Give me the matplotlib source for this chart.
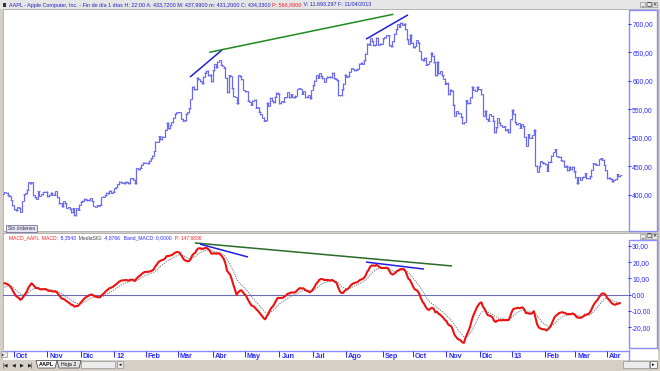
import numpy as np
import pandas as pd
import matplotlib
matplotlib.use("Agg")
from matplotlib import pyplot as plt
from matplotlib.patches import Rectangle, Polygon

W, H = 660, 371

# AAPL daily closes, one list per month (Aug/Sep 2011 only warm up the MACD)
close_2011_08 = [396.8, 392.6, 392.6, 377.4, 373.6, 353.2, 374.0, 363.7, 373.7, 377.0, 383.4, 380.5,
                 380.5, 366.1, 356.0, 356.4, 373.6, 376.2, 373.7, 383.6, 390.0, 390.0, 384.8]
close_2011_09 = [381.0, 374.1, 379.7, 383.9, 384.1, 377.5, 379.9, 384.6, 389.3, 393.0, 400.5, 411.6,
                 413.5, 412.1, 401.8, 404.3, 403.2, 399.3, 397.0, 390.6, 381.3]
close_2011_10 = [374.6, 372.5, 378.3, 377.4, 369.8, 388.8, 400.3, 402.2, 408.4, 422.0, 420.0, 422.2,
                 398.6, 395.3, 392.9, 405.8, 397.8, 400.6, 404.7, 405.0, 404.8]
close_2011_11 = [397.0, 400.2, 403.4, 400.2, 400.0, 406.2, 395.3, 385.2, 384.6, 379.3, 388.8, 384.8,
                 377.4, 378.0, 374.9, 369.0, 376.1, 363.6, 376.1, 373.2, 382.2]
close_2011_12 = [387.9, 389.7, 393.0, 390.9, 390.0, 390.7, 393.6, 388.8, 380.0, 378.9, 381.0, 380.0,
                 382.2, 395.9, 396.4, 398.6, 403.3, 402.6, 406.5, 403.0, 405.0]
close_2012_01 = [411.2, 413.4, 418.0, 422.4, 421.7, 421.0, 419.8, 422.6, 421.7, 419.8, 429.1, 429.0,
                 426.0, 420.4, 446.7, 444.6, 447.3, 453.0, 456.5, 456.5]
close_2012_02 = [456.2, 455.1, 459.7, 464.0, 468.8, 476.7, 493.2, 493.4, 502.6, 497.7, 502.2, 502.1,
                 514.0, 526.3, 516.4, 522.4, 527.3, 535.4, 542.4, 545.2]
close_2012_03 = [544.5, 545.2, 533.2, 530.3, 530.7, 542.0, 545.2, 552.0, 568.1, 589.6, 585.6, 585.6,
                 605.2, 602.5, 599.3, 596.1, 607.0, 614.5, 617.6, 609.9, 610.5, 599.6]
close_2012_04 = [618.6, 629.3, 624.3, 633.7, 636.2, 628.4, 626.2, 622.8, 605.2, 580.1, 609.7, 608.3,
                 587.4, 573.0, 571.7, 560.3, 610.0, 607.7, 603.0, 584.0]
close_2012_05 = [582.1, 581.8, 565.3, 562.8, 558.2, 565.0, 566.7, 553.2, 553.8, 545.8, 540.9, 535.3,
                 530.1, 530.4, 561.3, 556.0, 570.6, 565.3, 562.3, 572.3, 579.2, 577.7]
close_2012_06 = [561.0, 564.3, 562.8, 571.5, 571.7, 580.3, 571.2, 576.2, 572.2, 571.5, 574.1, 585.8,
                 587.4, 585.7, 577.7, 582.1, 570.8, 572.0, 574.5, 569.1, 584.0]
close_2012_07 = [592.5, 600.0, 609.9, 605.9, 613.9, 608.2, 604.4, 598.9, 605.0, 606.9, 606.9, 606.3,
                 614.3, 604.3, 603.8, 600.9, 574.9, 574.9, 585.2, 595.0, 610.8]
close_2012_08 = [606.8, 607.8, 615.7, 622.6, 620.9, 618.9, 619.9, 621.7, 630.0, 631.7, 630.0, 636.3,
                 648.1, 665.2, 663.2, 674.9, 669.8, 662.6, 663.2, 675.7, 663.9, 665.2, 665.2]
close_2012_09 = [675.0, 676.3, 680.4, 680.7, 662.7, 660.6, 669.8, 683.0, 690.8, 699.8, 694.8, 702.1,
                 698.7, 700.1, 690.8, 673.5, 665.0, 681.3, 667.1]
close_2012_10 = [659.4, 661.3, 671.5, 666.8, 652.6, 638.2, 635.9, 640.9, 628.1, 629.7, 634.8, 649.8,
                 644.6, 632.6, 609.8, 634.0, 613.4, 616.8, 609.5, 604.0, 595.3]
close_2012_11 = [596.5, 576.8, 584.6, 582.9, 558.0, 538.8, 547.1, 542.9, 542.9, 536.9, 525.6, 527.7,
                 565.7, 560.9, 561.7, 571.5, 589.5, 584.8, 582.9, 589.4, 585.3]
close_2012_12 = [585.3, 576.8, 538.8, 547.2, 533.3, 529.8, 541.4, 539.0, 529.7, 509.8, 518.8, 533.9,
                 526.3, 521.7, 519.3, 520.2, 513.0, 515.1, 509.6, 532.2]
close_2013_01 = [549.0, 542.1, 527.0, 523.9, 525.3, 517.1, 523.5, 520.3, 501.8, 485.9, 506.1, 500.0,
                 500.0, 504.8, 514.0, 450.5, 439.9, 449.8, 458.3, 456.8, 455.5]
close_2013_02 = [453.6, 442.3, 457.8, 457.8, 468.2, 475.0, 479.9, 467.9, 467.0, 466.6, 460.2, 460.0,
                 448.9, 450.8, 442.8, 449.0, 444.6, 448.9, 441.4]
close_2013_03 = [430.5, 420.1, 431.1, 425.7, 430.6, 431.7, 437.9, 428.4, 428.4, 432.5, 443.7, 455.7,
                 454.5, 452.1, 452.7, 461.9, 463.6, 461.1, 452.1, 442.7]
close_2013_04 = [428.9, 429.8, 427.7, 423.2, 426.2, 427.0, 435.7, 432.5, 434.3]

warmup_months = [close_2011_08, close_2011_09]
shown_months = [close_2011_10, close_2011_11, close_2011_12, close_2012_01, close_2012_02,
                close_2012_03, close_2012_04, close_2012_05, close_2012_06, close_2012_07,
                close_2012_08, close_2012_09, close_2012_10, close_2012_11, close_2012_12,
                close_2013_01, close_2013_02, close_2013_03, close_2013_04]
month_labels = ['Oct', 'Nov', 'Dic', '12', 'Feb', 'Mar', 'Abr', 'May', 'Jun', 'Jul', 'Ago',
                'Sep', 'Oct', 'Nov', 'Dic', '13', 'Feb', 'Mar', 'Abr']
first_shown_date = 15  # Sep 23, 2011 within the September list

price_ticks = [400, 450, 500, 550, 600, 650, 700]
macd_ticks = [-20, -10, 0, 10, 20, 30]

# hand drawn trend lines: (day index, value) start and end
price_trendlines = [((154.7, 606.7), (174.8, 654.2), '#1f1fe0'),
                    ((166.8, 650.2), (282.6, 717.1), '#1f8a1f'),
                    ((265.4, 673.4), (291.8, 716.0), '#1f1fe0')]
macd_trendlines = [((157.8, 31.7), (319.5, 17.6), '#2a6a2a'),
                   ((161.0, 31.0), (191.2, 23.1), '#1f1fe0'),
                   ((265.4, 20.0), (301.9, 15.7), '#1f1fe0')]

BLUE = '#2b2bff'
BAR = '#6a6af0'
FONT = 'Liberation Sans'


def px_axes(fig, x0, y0, x1, y1):
    return fig.add_axes([x0 / W, 1 - y1 / H, (x1 - x0) / W, (y1 - y0) / H])


def text_run(ax, x, y, parts, size, renderer, weight='normal'):
    for s, c in parts:
        t = ax.text(x, y, s, color=c, fontsize=size, va='center', ha='left',
                    family=FONT, weight=weight)
        x += t.get_window_extent(renderer).width
    return x


def fit_size(fig, parts, width, renderer):
    probe = fig.text(0, 0, ''.join(p for p, _ in parts), fontsize=10, family=FONT)
    w = probe.get_window_extent(renderer).width
    probe.remove()
    return 10 * width / w


def main():
    closes = np.array(sum(warmup_months + shown_months, []))
    macd = (pd.Series(closes).ewm(span=12, adjust=False).mean()
            - pd.Series(closes).ewm(span=26, adjust=False).mean())
    signal = macd.ewm(span=9, adjust=False).mean()
    print('MACD', macd.iloc[-1], 'signal', signal.iloc[-1])

    n_warm = sum(len(m) for m in warmup_months)
    month_starts = np.cumsum([0] + [len(m) for m in shown_months[:-1]]) + n_warm
    start = len(close_2011_08) + first_shown_date
    idx = np.arange(len(closes))

    # pixel calibration of the screenshot: Oct-2011 tick at x=14, Apr-2013 tick at x=607
    ppd = (607 - 14) / (month_starts[-1] - month_starts[0])
    xlim = (month_starts[0] - 11 / ppd, month_starts[0] + 614 / ppd)

    fig = plt.figure(figsize=(W / 100, H / 100), dpi=100, facecolor='#d4d0c8')
    renderer = fig.canvas.get_renderer()

    chrome = fig.add_axes([0, 0, 1, 1], zorder=0)
    chrome.set_xlim(0, W)
    chrome.set_ylim(H, 0)
    chrome.axis('off')

    # window frames
    chrome.add_patch(Rectangle((0, 0), W, 9, facecolor='#e6e6e6', edgecolor='none'))
    chrome.add_patch(Rectangle((2.5, 2.5), 3, 4, facecolor='#333333', edgecolor='none'))
    chrome.add_patch(Rectangle((3, 9), 655, 222, facecolor='white', edgecolor='#a0a0a0', lw=0.5))
    chrome.add_patch(Rectangle((3, 233), 655, 117, facecolor='white', edgecolor='#a0a0a0', lw=0.5))
    chrome.add_patch(Rectangle((629, 9.5), 27.5, 221, facecolor='none', edgecolor='#8c8cff', lw=1))
    chrome.add_patch(Rectangle((629, 240), 27.5, 108, facecolor='none', edgecolor='#8c8cff', lw=1))
    chrome.add_patch(Rectangle((3, 350), 655, 10, facecolor='white', edgecolor='none'))
    chrome.plot([3, 628], [351, 351], color='#8c8cff', lw=1)
    chrome.plot([628.5, 628.5], [350, 360], color='#8c8cff', lw=1)
    for y in (2, 233.5):
        for k, g in enumerate(['_', '□', '×']):
            chrome.add_patch(Rectangle((640 + 6 * k, y), 5, 5, facecolor='#e8e8e8',
                                       edgecolor='#808080', lw=0.4))
            chrome.text(642.5 + 6 * k, y + 2.6, g, fontsize=3.5, ha='center', va='center')

    # title bar text
    title_parts = [('AAPL - Apple Computer, Inc. - Fin de día 1 días H: 22:00 A: 433,7200 M: 437,9900 '
                    'm: 431,2000 C: 434,3300 ', '#2020c8'), ('P: 566,8900', '#ff2020'),
                   (' V: 11.693.297 F: 11/04/2013', '#2020c8')]
    size = fit_size(fig, title_parts, 359, renderer)
    text_run(chrome, 9, 5, title_parts, size, renderer)

    macd_parts = [('MACD_AAPL  MACD: ', '#ff2020'), ('-5,3543', BLUE), ('  MediaSIG: ', '#404040'),
                  ('-4,8766', BLUE), ('  Band_MACD: 0,0000', BLUE), ('  P: 147,6836', '#ff2020')]
    size = fit_size(fig, macd_parts, 193, renderer)
    text_run(chrome, 9, 238, macd_parts, size, renderer)

    # "Sin ordenes" button
    chrome.add_patch(Rectangle((6, 224.5), 31, 7, facecolor='#e4e4f0', edgecolor='#5a5a90', lw=0.5))
    chrome.text(21.5, 228, 'Sin órdenes', fontsize=3.6, ha='center', va='center', family=FONT,
                color='#303050')

    # bottom sheet tabs
    chrome.add_patch(Rectangle((0, 360), W, 11, facecolor='#d4d0c8', edgecolor='none'))
    for k, g in enumerate(['|◀', '◀', '▶', '▶|']):
        chrome.text(5 + 8.5 * k, 365, g, fontsize=3.6, ha='center', va='center', color='#202020')
    chrome.add_patch(Polygon([(36, 360.5), (38, 368), (55, 368), (57, 360.5)], closed=True,
                             facecolor='white', edgecolor='#404040', lw=0.5))
    chrome.text(46.5, 364.2, 'AAPL', fontsize=4, ha='center', va='center', family=FONT,
                weight='bold')
    chrome.add_patch(Polygon([(57, 360.5), (59, 368), (79, 368), (81, 360.5)], closed=True,
                             facecolor='#e4e4e4', edgecolor='#404040', lw=0.5))
    chrome.text(69, 364.2, 'Hoja 2', fontsize=3.8, ha='center', va='center', family=FONT)
    chrome.add_patch(Rectangle((81, 361), 34, 6.5, facecolor='#ececec', edgecolor='#808080', lw=0.4))
    chrome.add_patch(Rectangle((117, 361), 6, 6.5, facecolor='#e8e8e8', edgecolor='#808080', lw=0.4))
    chrome.text(120, 364.3, '◂', fontsize=3.5, ha='center', va='center')
    chrome.add_patch(Rectangle((623, 361), 26, 6.5, facecolor='#ececec', edgecolor='#808080', lw=0.4))
    chrome.add_patch(Rectangle((650, 361), 7, 6.5, facecolor='#f4f4f4', edgecolor='#404040', lw=0.4))
    chrome.text(653.5, 364.3, '▸', fontsize=3.5, ha='center', va='center')
    chrome.add_patch(Rectangle((0.5, 351), 6, 6, facecolor='#e8e8e8', edgecolor='#808080', lw=0.4))
    chrome.text(3.5, 354, '▸', fontsize=3.2, ha='center', va='center')

    # price panel
    ax = px_axes(fig, 3, 10, 628, 231)
    ax.set_facecolor('none')
    xs = idx[start:]
    prev = closes[start - 1:-1]
    cur = closes[start:]
    ax.vlines(xs, np.minimum(prev, cur) - 0.8, np.maximum(prev, cur) + 0.8, color=BAR, lw=0.9)
    ax.plot(xs, prev, ls='none', marker=0, ms=1.3, mew=0.6, color=BAR)
    ax.plot(xs, cur, ls='none', marker=1, ms=1.3, mew=0.6, color=BAR)
    for (x0, y0), (x1, y1), c in price_trendlines:
        ax.plot([x0, x1], [y0, y1], color=c, lw=1.1, solid_capstyle='butt')
    ax.set_xlim(*xlim)
    ax.set_ylim(336.1, 724.6)
    ax.set_xticks([])
    ax.set_yticks(price_ticks)
    ax.set_yticklabels([f'{v:.2f}'.replace('.', ',') for v in price_ticks])
    ax.yaxis.tick_right()
    ax.tick_params(axis='y', length=2.5, width=0.7, color=BLUE, labelcolor=BLUE,
                   labelsize=4.9, pad=0.5, direction='out')
    for lab in ax.get_yticklabels():
        lab.set_family(FONT)
    for s in ax.spines.values():
        s.set_visible(False)

    # MACD panel
    mx = px_axes(fig, 3, 241, 628, 350)
    mx.set_facecolor('none')
    mx.axhline(0, color='#6a6ab8', lw=0.8)
    mx.plot(xs, signal.values[start:], color='#707070', lw=0.7, ls=(0, (1.2, 1.2)))
    mx.plot(xs, macd.values[start:], color='#ee1111', lw=1.5)
    for (x0, y0), (x1, y1), c in macd_trendlines:
        mx.plot([x0, x1], [y0, y1], color=c, lw=1.1, solid_capstyle='butt')
    mx.set_xlim(*xlim)
    mx.set_ylim(-33.9, 32.9)
    mx.set_xticks([])
    mx.set_yticks(macd_ticks)
    mx.set_yticklabels([f'{v:.2f}'.replace('.', ',') for v in macd_ticks])
    mx.yaxis.tick_right()
    mx.tick_params(axis='y', length=2.5, width=0.7, color=BLUE, labelcolor=BLUE,
                   labelsize=4.9, pad=0.5, direction='out')
    for lab in mx.get_yticklabels():
        lab.set_family(FONT)
    for s in mx.spines.values():
        s.set_visible(False)

    # date strip
    dx = px_axes(fig, 3, 351, 628, 360)
    dx.set_facecolor('none')
    dx.set_xlim(*xlim)
    dx.set_ylim(0, 1)
    dx.axis('off')
    dx.vlines(month_starts, 0.3, 1, color=BLUE, lw=0.7)
    for ms, lab in zip(month_starts, month_labels):
        dx.text(ms + 1.2 / ppd * 1.6, 0.05, lab, fontsize=5.2, color=BLUE, weight='bold',
                family=FONT, ha='left', va='bottom')

    fig.savefig('out.png', dpi=100, facecolor=fig.get_facecolor())


if __name__ == '__main__':
    main()
